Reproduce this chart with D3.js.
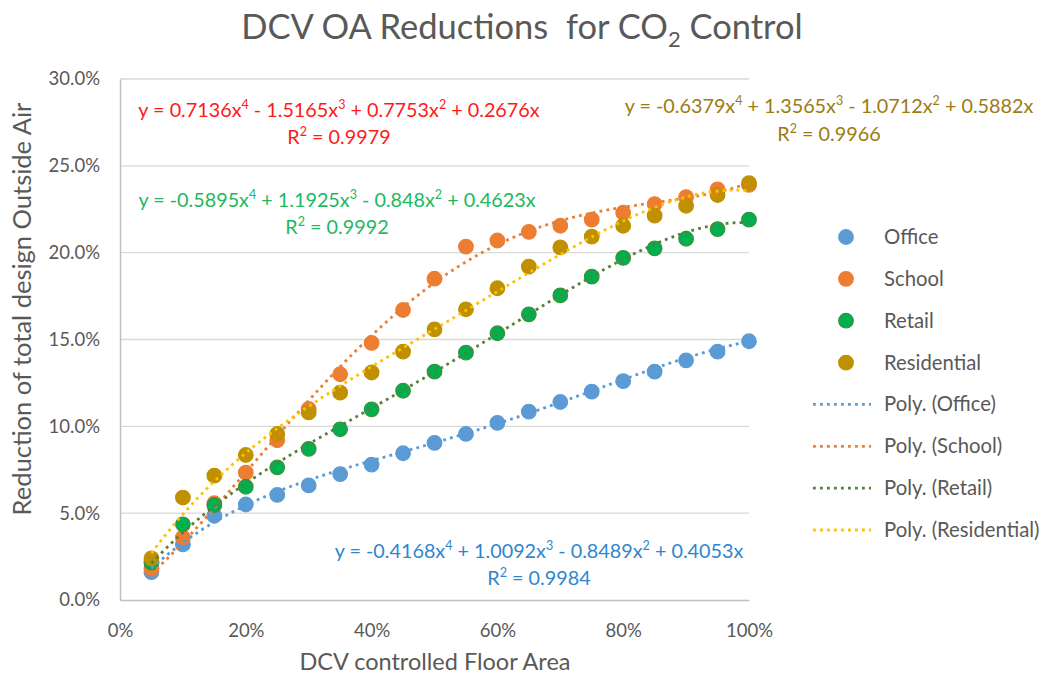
<!DOCTYPE html>
<html>
<head>
<meta charset="utf-8">
<script src="https://cdn.jsdelivr.net/npm/d3@7"></script>
<style>
  html, body { margin: 0; padding: 0; background: #ffffff; }
  svg { display: block; }
  text { font-family: Lato, "Open Sans", sans-serif; }
</style>
</head>
<body>
<svg id="chart" width="1047" height="677"></svg>
<script>
// ---------- data ----------
const floorArea = [0.05,0.10,0.15,0.20,0.25,0.30,0.35,0.40,0.45,0.50,0.55,0.60,0.65,0.70,0.75,0.80,0.85,0.90,0.95,1.00];
const office      = [0.016,0.032,0.0485,0.055,0.0605,0.066,0.0725,0.078,0.0845,0.0905,0.0956,0.102,0.1085,0.114,0.120,0.126,0.1315,0.138,0.143,0.149];
const school      = [0.018,0.036,0.0557,0.0733,0.092,0.110,0.130,0.148,0.167,0.185,0.2035,0.207,0.212,0.2155,0.219,0.223,0.228,0.232,0.2365,0.239];
const retail      = [0.0215,0.0436,0.0547,0.0652,0.0764,0.087,0.0983,0.1098,0.1205,0.1315,0.1424,0.1536,0.1645,0.1754,0.1862,0.197,0.2025,0.208,0.2136,0.219];
const residential = [0.024,0.059,0.0716,0.0835,0.0956,0.108,0.1194,0.131,0.143,0.1558,0.1674,0.1795,0.192,0.203,0.2092,0.2155,0.2213,0.227,0.2332,0.240];
const seriesNames = ["Office","School","Retail","Residential"];
// trendline coefficients [x^4, x^3, x^2, x] as printed on the chart
const coefOffice      = [-0.4168, 1.0092, -0.8489, 0.4053];
const coefSchool      = [0.7136, -1.5165, 0.7753, 0.2676];
const coefRetail      = [-0.5895, 1.1925, -0.848, 0.4623];
const coefResidential = [-0.6379, 1.3565, -1.0712, 0.5882];
const r2Values = ["0.9984","0.9979","0.9992","0.9966"];
const xTicks = [0,0.2,0.4,0.6,0.8,1.0];
const yTicks = [0,0.05,0.10,0.15,0.20,0.25,0.30];

// ---------- styles ----------
const markerFill   = ["#5B9BD5","#ED7D31","#00B050","#BF9000"];
const markerStroke = ["#5B9BD5","#ED7D31","#3F8F3A","#BF9000"];
const trendColor   = ["#5B9BD5","#ED7D31","#548235","#FFC000"];
const eqColor      = ["#2E86CF","#FF1A1A","#1DB860","#9C7B12"];

const svg = d3.select("#chart");
const L = 120, R = 749, T = 79, B = 600;
const x = d3.scaleLinear().domain([0,1]).range([L,R]);
const y = d3.scaleLinear().domain([0,0.30]).range([B,T]);

// gridlines
svg.append("g").selectAll("line").data(yTicks.filter(d=>d>0)).join("line")
  .attr("x1", L).attr("x2", R).attr("y1", d=>y(d)).attr("y2", d=>y(d))
  .attr("stroke", "#d9d9d9").attr("stroke-width", 1.3);

// axes
const yAxis = svg.append("g").attr("transform", `translate(${L},0)`)
  .call(d3.axisLeft(y).tickValues(yTicks).tickFormat(d3.format(".1%")).tickSize(0).tickPadding(20));
yAxis.select(".domain").attr("stroke", "#bfbfbf").attr("stroke-width", 1.5);
yAxis.selectAll("text").attr("fill","#595959").style("font-size","18.5px");

const xAxis = svg.append("g").attr("transform", `translate(0,${B})`)
  .call(d3.axisBottom(x).tickValues(xTicks).tickFormat(d3.format(".0%")).tickSize(0).tickPadding(24));
xAxis.select(".domain").attr("stroke", "#bfbfbf").attr("stroke-width", 1.5);
xAxis.selectAll("text").attr("fill","#595959").style("font-size","18.5px");

// markers
const allSeries = [office, school, retail, residential];
allSeries.forEach((vals, i) => {
  svg.append("g").selectAll("circle").data(vals).join("circle")
    .attr("cx", (d,j) => x(floorArea[j]))
    .attr("cy", d => y(d))
    .attr("r", 7.3)
    .attr("fill", markerFill[i])
    .attr("stroke", markerStroke[i])
    .attr("stroke-width", 1.2);
});

// trendlines
const coefs = [coefOffice, coefSchool, coefRetail, coefResidential];
const poly = (c, t) => c[0]*t**4 + c[1]*t**3 + c[2]*t**2 + c[3]*t;
const xs = d3.range(0.05, 1.0001, 0.005);
const line = d3.line().x(d => x(d[0])).y(d => y(d[1]));
coefs.forEach((c, i) => {
  svg.append("path")
    .attr("d", line(xs.map(t => [t, poly(c, t)])))
    .attr("fill","none")
    .attr("stroke", trendColor[i])
    .attr("stroke-width", 2.8)
    .attr("stroke-dasharray", "2.8,4.2");
});

// equation labels
function fmt(v, first) {
  const a = Math.abs(v).toString();
  if (first) return (v < 0 ? "-" : "") + a;
  return (v < 0 ? " - " : " + ") + a;
}
const eqSize = "19.8px", supSize = "12.5px";
function equation(i, cx, y1, y2) {
  const c = coefs[i];
  const t = svg.append("text").attr("x", cx).attr("y", y1)
    .attr("text-anchor","middle").attr("fill", eqColor[i]).style("font-size",eqSize);
  t.append("tspan").text("y = " + fmt(c[0], true) + "x");
  t.append("tspan").attr("dy", -8).style("font-size",supSize).text("4");
  t.append("tspan").attr("dy", 8).text(fmt(c[1]) + "x");
  t.append("tspan").attr("dy", -8).style("font-size",supSize).text("3");
  t.append("tspan").attr("dy", 8).text(fmt(c[2]) + "x");
  t.append("tspan").attr("dy", -8).style("font-size",supSize).text("2");
  t.append("tspan").attr("dy", 8).text(fmt(c[3]) + "x");
  const r = svg.append("text").attr("x", cx).attr("y", y2)
    .attr("text-anchor","middle").attr("fill", eqColor[i]).style("font-size",eqSize);
  r.append("tspan").text("R");
  r.append("tspan").attr("dy", -8).style("font-size",supSize).text("2");
  r.append("tspan").attr("dy", 8).text(" = " + r2Values[i]);
}
equation(1, 339, 117, 144);
equation(2, 337, 207, 234);
equation(3, 829, 113, 141);
equation(0, 539, 558, 585);

// title
const title = svg.append("text").attr("x", 522).attr("y", 39)
  .attr("text-anchor","middle").attr("fill","#595959").style("font-size","34.5px");
title.append("tspan").text("DCV OA Reductions\u00A0 for CO");
title.append("tspan").attr("dy", 8).style("font-size","22px").text("2");
title.append("tspan").attr("dy", -8).text(" Control");

// axis titles
svg.append("text").attr("x", 435).attr("y", 670).attr("text-anchor","middle")
  .attr("fill","#595959").style("font-size","23.5px").text("DCV controlled Floor Area");
svg.append("text").attr("transform","translate(31,309) rotate(-90)").attr("text-anchor","middle")
  .attr("fill","#595959").style("font-size","25.5px").text("Reduction of total design Outside Air");

// legend
const lg = svg.append("g");
const ly = d3.scaleLinear().domain([0,7]).range([237, 530]);
seriesNames.forEach((n, i) => {
  lg.append("circle").attr("cx", 846).attr("cy", ly(i)).attr("r", 7.3)
    .attr("fill", markerFill[i]).attr("stroke", markerStroke[i]).attr("stroke-width", 1.2);
  lg.append("text").attr("x", 884).attr("y", ly(i) + 7).attr("fill","#595959")
    .style("font-size","20.3px").text(n);
});
seriesNames.forEach((n, i) => {
  const yy = ly(i + 4);
  lg.append("line").attr("x1", 813).attr("x2", 871).attr("y1", yy).attr("y2", yy)
    .attr("stroke", trendColor[i]).attr("stroke-width", 2.8).attr("stroke-dasharray","2.8,4.2");
  lg.append("text").attr("x", 884).attr("y", yy + 7).attr("fill","#595959")
    .style("font-size","20.3px").text("Poly. (" + n + ")");
});
</script>
</body>
</html>
